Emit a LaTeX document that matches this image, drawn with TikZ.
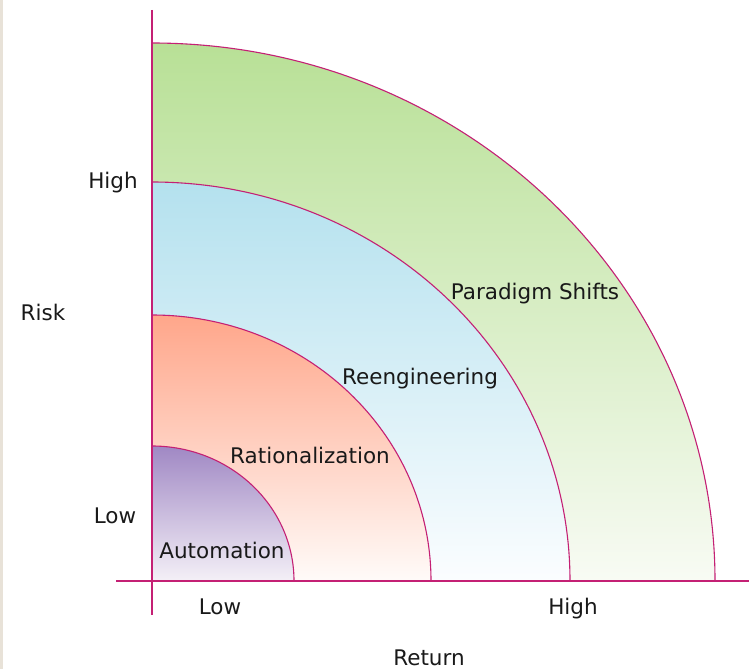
\documentclass[tikz,border=0pt]{standalone}
\usepackage{fontspec}
\setmainfont{DejaVu Sans}
\definecolor{lcol}{RGB}{196,32,116}
\definecolor{pgreen}{RGB}{184,224,150}
\definecolor{pgreenb}{RGB}{248,251,244}
\definecolor{rblue}{RGB}{180,225,238}
\definecolor{rblueb}{RGB}{251,253,255}
\definecolor{rsalmon}{RGB}{255,166,138}
\definecolor{rsalmonb}{RGB}{255,251,249}
\definecolor{apurple}{RGB}{160,136,196}
\definecolor{apurpleb}{RGB}{244,240,247}
\definecolor{strip}{RGB}{232,226,216}
\tikzset{every picture/.style={x=1pt,y=-1pt}}
\tikzset{axis/.style={lcol,line width=1.4pt}}
\tikzset{band/.style={draw=lcol,line width=1.1pt}}
\tikzset{lbl/.style={anchor=base,inner sep=0pt,text=black!90,font=\fontsize{21.5}{25}\selectfont}}

\begin{document}
\begin{tikzpicture}
\useasboundingbox (0,0) rectangle (749,669);
\fill [strip] (0,0) rectangle (3,669);

\coordinate (o) at (152,581);
\coordinate (ytop) at (152,10);
\coordinate (ybot) at (152,615);
\coordinate (xleft) at (116,581);
\coordinate (xright) at (749,581);

\path [band,top color=pgreen,bottom color=pgreenb] (152,43) arc [start angle=90,end angle=0,x radius=563pt,y radius=538pt] -- (o) -- cycle;
\path [band,top color=rblue,bottom color=rblueb] (152,182) arc [start angle=90,end angle=0,x radius=418pt,y radius=399pt] -- (o) -- cycle;
\path [band,top color=rsalmon,bottom color=rsalmonb] (152,315) arc [start angle=90,end angle=0,x radius=279pt,y radius=266pt] -- (o) -- cycle;
\path [band,top color=apurple,bottom color=apurpleb] (152,446) arc [start angle=90,end angle=0,x radius=142pt,y radius=135pt] -- (o) -- cycle;

\draw [axis] (ytop) -- (ybot);
\draw [axis] (xleft) -- (xright);

\node [lbl] (paradigm) at (535,299) {Paradigm Shifts};
\node [lbl] (reeng) at (420,384) {Reengineering};
\node [lbl] (ration) at (310,463) {Rationalization};
\node [lbl] (autom) at (222,558) {Automation};

\node [lbl] (yhigh) at (113,188) {High};
\node [lbl] (risk) at (43,320) {Risk};
\node [lbl] (ylow) at (115,523) {Low};
\node [lbl] (xlow) at (220,614) {Low};
\node [lbl] (xhigh) at (573,614) {High};
\node [lbl] (return) at (429,665) {Return};
\end{tikzpicture}
\end{document}
